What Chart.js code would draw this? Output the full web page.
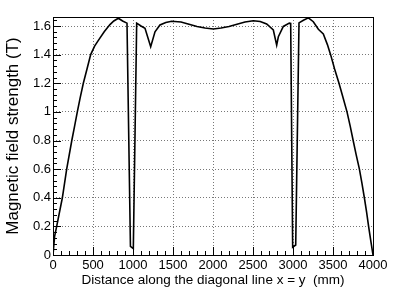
<!DOCTYPE html>
<html>
<head>
<meta charset="utf-8">
<script src="https://cdn.jsdelivr.net/npm/chart.js@4"></script>
<style>
  html, body { margin: 0; padding: 0; background: #fff; }
  canvas { display: block; }
</style>
</head>
<body>
<canvas id="field-chart" width="415" height="297"></canvas>
<script>
// 対角線上の距離 (mm)
const distance = [
    0, 20, 46, 117, 171, 235, 270, 304, 340, 379, 425, 471, 520, 567, 640, 712, 760, 817, 870, 925,
    968, 1004, 1046, 1100, 1150, 1221, 1275, 1337, 1410, 1483, 1600, 1700, 1800, 1900, 2004,
    2100, 2200, 2300, 2400, 2504, 2590, 2671, 2754, 2796, 2817, 2879, 2954, 2971,
    2996, 3034, 3075, 3130, 3192, 3254, 3317, 3379, 3430, 3470, 3520, 3575, 3625, 3675, 3715,
    3752, 3790, 3830, 3862, 3892, 3920, 3945, 3972, 4000
];
// 磁場の強さ (T)
const fieldStrength = [
    0, 0.13, 0.2, 0.4, 0.6, 0.8, 0.9, 1.0, 1.1, 1.2, 1.3, 1.4, 1.46, 1.5, 1.56, 1.61, 1.635, 1.654, 1.635, 1.62,
    0.06, 0.045, 1.62, 1.6, 1.584, 1.456, 1.56, 1.607, 1.625, 1.633, 1.628, 1.612, 1.597, 1.586, 1.579,
    1.586, 1.597, 1.612, 1.628, 1.637, 1.632, 1.614, 1.572, 1.467, 1.525, 1.597, 1.62, 1.618,
    0.055, 0.07, 1.622, 1.64, 1.657, 1.63, 1.577, 1.545, 1.47, 1.4, 1.3, 1.2, 1.1, 1.0, 0.9,
    0.8, 0.7, 0.6, 0.5, 0.4, 0.3, 0.2, 0.1, 0
];
// 目盛り
const xTicks = [0, 500, 1000, 1500, 2000, 2500, 3000, 3500, 4000];
const yTicks = [0, 0.2, 0.4, 0.6, 0.8, 1, 1.2, 1.4, 1.6];
const yMax = 1.663;

const fontFamily = '"Liberation Sans", Arial, sans-serif';
const tickFont = { family: fontFamily, size: 13 };

// ROOT風の枠と内向きの目盛り
const framePlugin = {
    id: 'frame',
    afterDatasetsDraw(chart) {
        const { ctx, chartArea: a, scales } = chart;
        const xs = scales.x, ys = scales.y;
        ctx.save();
        ctx.strokeStyle = '#000';
        ctx.lineWidth = 1;
        ctx.beginPath();
        // x軸 (主目盛り 500, 副目盛り 100)
        for (let v = 0; v <= 4000; v += 100) {
            const px = Math.round(xs.getPixelForValue(v)) + 0.5;
            const len = v % 500 === 0 ? 8 : 4;
            ctx.moveTo(px, a.bottom);
            ctx.lineTo(px, a.bottom - len);
        }
        // y軸 (主目盛り 0.2, 副目盛り 0.04)
        for (let i = 0; i <= 41; i++) {
            const v = i * 0.04;
            if (v > yMax) break;
            const py = Math.round(ys.getPixelForValue(v)) + 0.5;
            const len = i % 5 === 0 ? 8 : 4;
            ctx.moveTo(a.left, py);
            ctx.lineTo(a.left + len, py);
        }
        ctx.stroke();
        ctx.strokeRect(Math.round(a.left) + 0.5, Math.round(a.top) + 0.5,
            Math.round(a.right - a.left), Math.round(a.bottom - a.top));
        ctx.restore();
    }
};

const ctx = document.getElementById('field-chart').getContext('2d');
new Chart(ctx, {
    type: 'line',
    data: {
        labels: distance,
        datasets: [{
            data: distance.map((d, i) => ({ x: d, y: fieldStrength[i] })),
            borderColor: '#000',
            borderWidth: 1.6,
            pointRadius: 0,
            tension: 0,
            fill: false
        }]
    },
    options: {
        responsive: false,
        animation: false,
        layout: { padding: { top: 17, right: 42, left: 0, bottom: 0 } },
        plugins: { legend: { display: false }, tooltip: { enabled: false } },
        scales: {
            x: {
                type: 'linear',
                min: 0,
                max: 4000,
                afterFit(scale) { scale.height = 42; },
                afterBuildTicks(scale) { scale.ticks = xTicks.map(v => ({ value: v })); },
                border: { display: false, dash: [1, 2] },
                grid: {
                    drawTicks: false,
                    color: c => (c.tick && (c.tick.value === 0 || c.tick.value === 4000)) ? 'rgba(0,0,0,0)' : '#777',
                    lineWidth: 1
                },
                ticks: {
                    autoSkip: false,
                    maxRotation: 0,
                    padding: 3,
                    color: '#000',
                    font: tickFont,
                    callback: v => String(v)
                },
                title: {
                    display: true,
                    text: 'Distance along the diagonal line x = y  (mm)',
                    color: '#000',
                    font: { family: fontFamily, size: 13.5 },
                    padding: { top: 0, bottom: 9 }
                }
            },
            y: {
                min: 0,
                max: yMax,
                afterFit(scale) { scale.width = 53; },
                afterBuildTicks(scale) { scale.ticks = yTicks.map(v => ({ value: v })); },
                border: { display: false, dash: [1, 2] },
                grid: {
                    drawTicks: false,
                    color: c => (c.tick && c.tick.value === 0) ? 'rgba(0,0,0,0)' : '#777',
                    lineWidth: 1
                },
                ticks: {
                    padding: 2,
                    color: '#000',
                    font: tickFont,
                    callback: v => String(v)
                },
                title: {
                    display: true,
                    text: 'Magnetic field strength (T)',
                    color: '#000',
                    font: { family: fontFamily, size: 17 },
                    padding: { top: 3, bottom: 0 }
                }
            }
        }
    },
    plugins: [framePlugin]
});
</script>
</body>
</html>
